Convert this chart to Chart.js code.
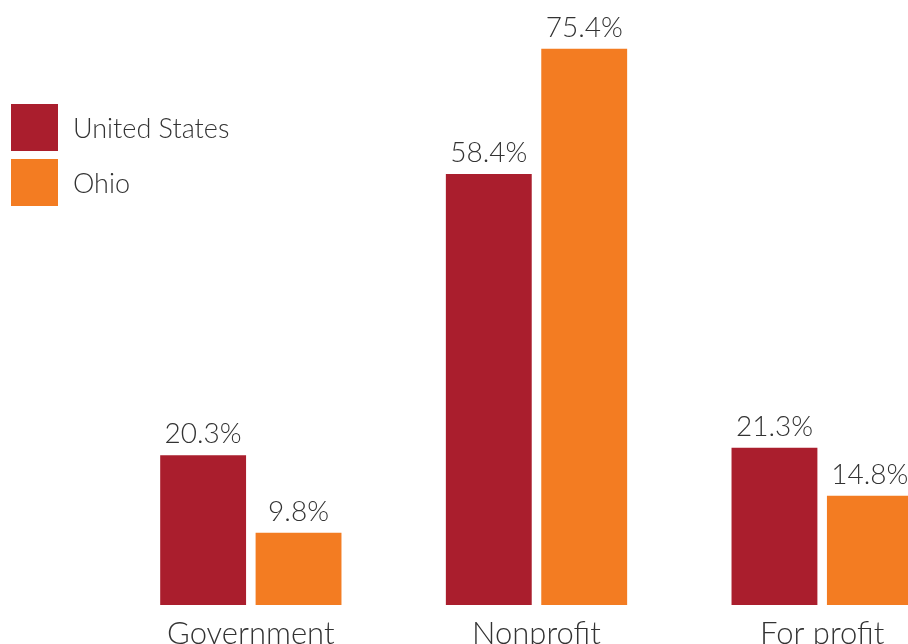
<!DOCTYPE html>
<html>
<head>
<meta charset="utf-8">
<script src="https://cdn.jsdelivr.net/npm/chart.js@4"></script>
<style>
  html, body { margin: 0; padding: 0; background: #fff; overflow: hidden; }
  #wrap { width: 965px; height: 680px; }
</style>
</head>
<body>
<div id="wrap"><canvas id="grafico" width="965" height="680"></canvas></div>
<script>
// categorias e séries
var categorias = ["Government", "Nonprofit", "For profit"];
var serieNomes = ["United States", "Ohio"];
var valoresEUA = [20.3, 58.4, 21.3];
var valoresOhio = [9.8, 75.4, 14.8];
var cores = ["#aa1e2d", "#f37c22"];

var fonte = "Lato, 'Open Sans', sans-serif";
var corTexto = "#333333";

// rótulos de valor acima das barras
var rotulosPlugin = {
    id: "rotulos",
    afterDatasetsDraw: function (chart) {
        var ctx = chart.ctx;
        ctx.save();
        ctx.font = "300 28px " + fonte;
        ctx.fillStyle = corTexto;
        ctx.textAlign = "center";
        ctx.textBaseline = "alphabetic";
        chart.data.datasets.forEach(function (ds, i) {
            chart.getDatasetMeta(i).data.forEach(function (bar, j) {
                ctx.fillText(ds.data[j].toFixed(1) + "%", bar.x, bar.y - 12);
            });
        });
        ctx.restore();
    }
};

// legenda desenhada à mão no canto esquerdo
var legendaPlugin = {
    id: "legendaManual",
    afterDraw: function (chart) {
        var ctx = chart.ctx;
        ctx.save();
        ctx.font = "300 27px " + fonte;
        ctx.textBaseline = "alphabetic";
        ctx.textAlign = "left";
        chart.data.datasets.forEach(function (ds, i) {
            var y = 104 + i * 55;
            ctx.fillStyle = ds.backgroundColor;
            ctx.fillRect(11, y, 47, 47);
            ctx.fillStyle = corTexto;
            ctx.fillText(ds.label, 73, y + 34);
        });
        ctx.restore();
    }
};

function setupChart() {
    var el = document.getElementById("grafico");
    new Chart(el, {
        type: "bar",
        data: {
            labels: categorias,
            datasets: [
                { label: serieNomes[0], data: valoresEUA, backgroundColor: cores[0] },
                { label: serieNomes[1], data: valoresOhio, backgroundColor: cores[1] }
            ]
        },
        options: {
            responsive: false,
            animation: false,
            categoryPercentage: 0.668,
            barPercentage: 0.9,
            layout: { padding: { left: 108, right: 0, top: 0, bottom: 0 } },
            plugins: {
                legend: { display: false },
                tooltip: { enabled: false }
            },
            scales: {
                x: {
                    grid: { display: false, drawTicks: false },
                    border: { display: false },
                    ticks: { color: corTexto, font: { family: fonte, size: 31, weight: 300 }, padding: 10 },
                    afterFit: function (scale) { scale.height = 75; }
                },
                y: {
                    display: false,
                    min: 0,
                    max: 82
                }
            }
        },
        plugins: [rotulosPlugin, legendaPlugin]
    });
}

window.addEventListener("load", setupChart);
</script>
</body>
</html>
